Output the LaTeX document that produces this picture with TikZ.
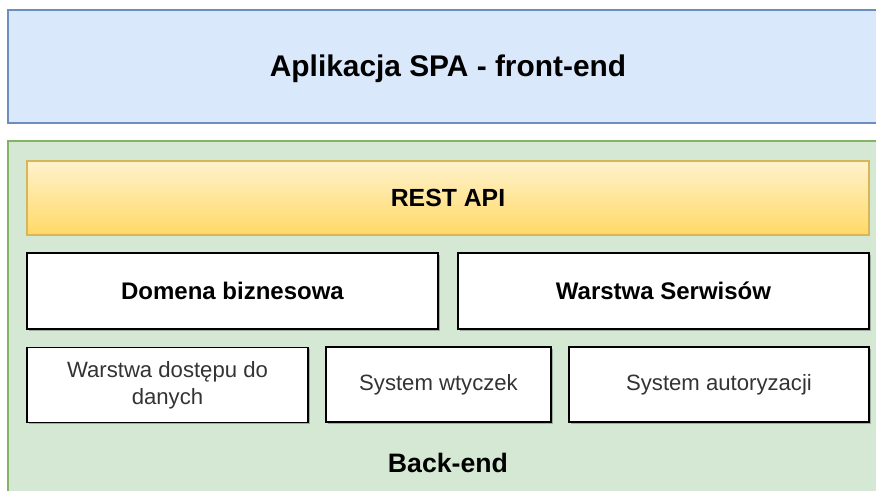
\documentclass[tikz,border=0pt]{standalone}
\usepackage{fontspec}
\setmainfont{Liberation Sans}
\usetikzlibrary{shadows}

\definecolor{spafill}{RGB}{218,232,252}
\definecolor{spaline}{RGB}{108,142,191}
\definecolor{bkfill}{RGB}{213,232,212}
\definecolor{bkline}{RGB}{130,179,102}
\definecolor{restline}{RGB}{214,182,86}
\definecolor{resttop}{RGB}{255,242,204}
\definecolor{restbot}{RGB}{255,217,102}
\definecolor{smalltext}{RGB}{51,51,51}

\tikzset{every picture/.style={line width=0.75pt}}
\tikzset{
  layerbox/.style={draw=black, line width=1.3pt, fill=white, align=center,
    drop shadow={shadow xshift=1.2pt, shadow yshift=-1.2pt, fill=black, opacity=0.25}},
  bigbox/.style={layerbox, minimum width=308.25pt, minimum height=57pt,
    font=\fontsize{18}{21}\selectfont\bfseries},
  smallbox/.style={layerbox, minimum height=56.25pt, text=smalltext,
    font=\fontsize{16.6}{20.5}\selectfont}
}

\begin{document}
\begin{tikzpicture}[x=0.75pt,y=0.75pt,yscale=-1,xscale=1]
	\clip (0,0) rectangle (876,491);

	%Shape: Rectangle [front-end]
	\draw [draw=spaline, fill=spafill, line width=1.1pt] (8,10) rectangle (885,123) ;
	%Shape: Rectangle [back-end]
	\draw [draw=bkline, fill=bkfill, line width=1.1pt] (8,141) rectangle (885,500) ;

	%Shape: Rectangle [rest]
	\node [draw=restline, line width=1pt, top color=resttop, bottom color=restbot,
	  minimum width=631.5pt, minimum height=55.5pt, font=\fontsize{18.6}{22}\selectfont\bfseries]
	  (rest) at (448,198) {REST API};

	%Shape: Rectangle [domena]
	\node [bigbox] (domena) at (232.5,291) {Domena biznesowa};
	%Shape: Rectangle [serwisy]
	\node [bigbox] (serwisy) at (663.5,291) {Warstwa Serwisów};

	%Shape: Rectangle [dane]
	\node [smallbox, minimum width=210.75pt] (dane) at (167.5,385) {Warstwa dostępu do\\danych};
	%Shape: Rectangle [wtyczki]
	\node [smallbox, minimum width=168.75pt] (wtyczki) at (438.5,384.5) {System wtyczek};
	%Shape: Rectangle [autoryzacja]
	\node [smallbox, minimum width=225pt] (autoryzacja) at (719,384.5) {System autoryzacji};

	% Text Node
	\node [font=\fontsize{22.4}{26}\selectfont\bfseries] (spa) at (448,69) {Aplikacja SPA - front-end};
	% Text Node
	\node [font=\fontsize{20}{24}\selectfont\bfseries] (backend) at (448,463) {Back-end};

\end{tikzpicture}
\end{document}
